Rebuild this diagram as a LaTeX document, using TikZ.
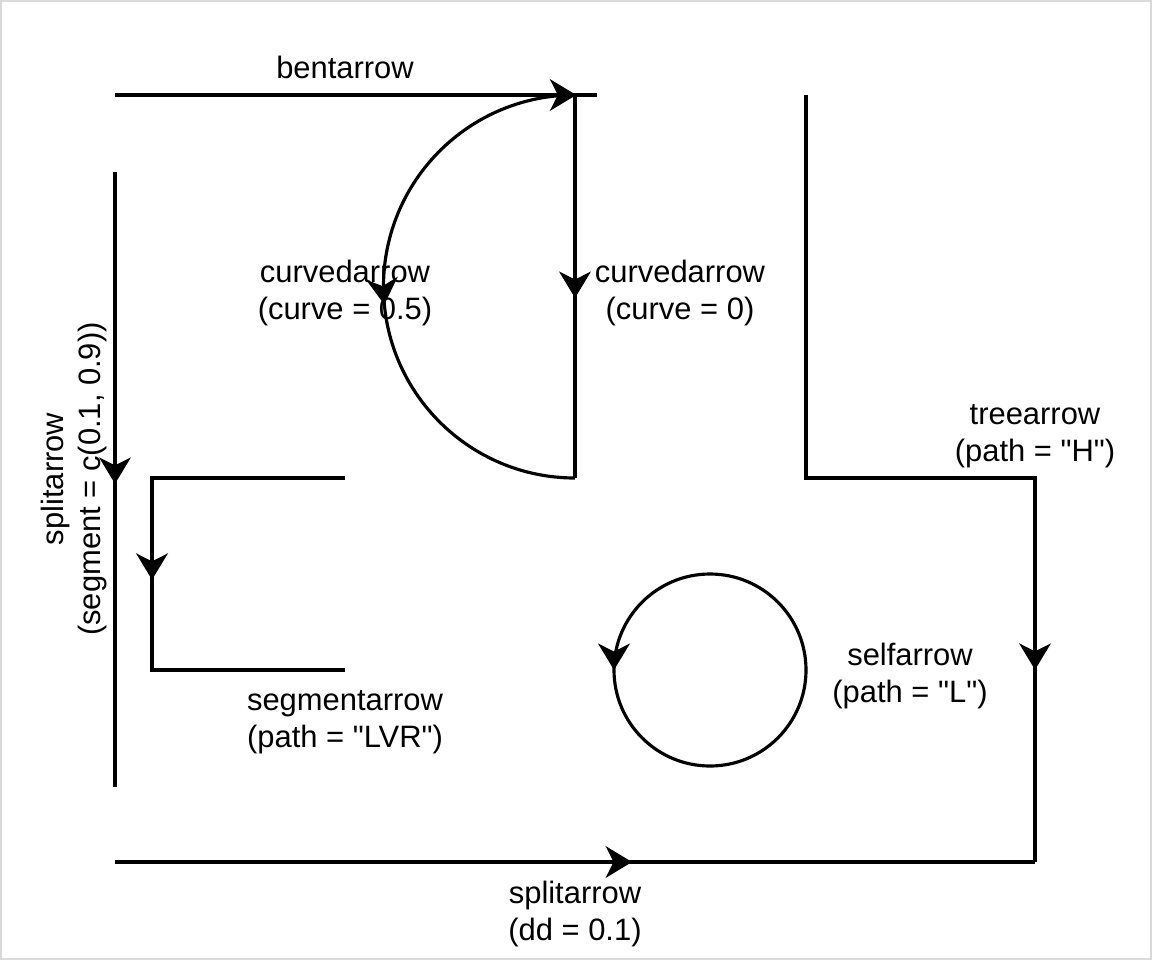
\documentclass[tikz,border=0pt]{standalone}
\usepackage{fontspec}
\setmainfont{Liberation Sans}
\usetikzlibrary{arrows.meta,calc,decorations.markings}
\definecolor{framecol}{RGB}{218,218,218}
\tikzset{
  lbl/.style={align=center,font=\fontsize{17.6}{21}\selectfont},
  ln/.style={line width=1.8pt},
  midarrow/.style={postaction={decorate},decoration={markings,mark=at position #1 with {\arrow{>}}}}
}

\begin{document}
\begin{tikzpicture}[x=0.02cm,y=0.02cm,>={Stealth[length=15pt,width=18pt,inset=4.5pt]}]
\useasboundingbox (0,0) rectangle (1152,-960);
\draw[framecol,line width=1.1pt] (1,-1) rectangle (1151,-959);
% corner points
\coordinate (bentA) at (115,-95); \coordinate (bentB) at (597,-95);
\coordinate (topC) at (575,-95); \coordinate (botC) at (575,-478);
\coordinate (treeA) at (806,-95); \coordinate (treeB) at (806,-478);
\coordinate (treeC) at (1035,-478); \coordinate (treeD) at (1035,-862);
\coordinate (splitA) at (115,-862);
\coordinate (vsplitA) at (115,-172); \coordinate (vsplitB) at (115,-787);
\coordinate (segA) at (345,-478); \coordinate (segB) at (152,-478);
\coordinate (segC) at (152,-670); \coordinate (segD) at (345,-670);
\coordinate (selfc) at (710,-670);
% top: bent and curved arrows
\draw[ln,midarrow=0.957] (bentA) -- (bentB);
\node[lbl,anchor=base] (bentlbl) at (345,-78) {bentarrow};
\draw[ln,midarrow=0.53] (topC) -- (botC);
\draw[ln,midarrow=0.53] (topC) arc[start angle=90,end angle=270,radius=191.5];
\node[lbl] (curvelbl) at (345,-293) {curvedarrow\\(curve = 0.5)};
\node[lbl] (straightlbl) at (680,-293) {curvedarrow\\(curve = 0)};
% tree arrow and bottom split arrow
\draw[ln,midarrow=0.807] (treeA) -- (treeB) -- (treeC) -- (treeD);
\node[lbl] (treelbl) at (1035,-436) {treearrow\\(path = \textquotedbl H\textquotedbl)};
\draw[ln,midarrow=0.562] (splitA) -- (treeD);
\node[lbl] (splitlbl) at (575,-914) {splitarrow\\(dd = 0.1)};
% left: split and segment arrows
\draw[ln,midarrow=0.507] (vsplitA) -- (vsplitB);
\node[lbl,rotate=90] (vsplitlbl) at (74,-479) {splitarrow\\(segment = c(0.1, 0.9))};
\draw[ln,midarrow=0.51] (segA) -- (segB) -- (segC) -- (segD);
\node[lbl] (seglbl) at (345,-722) {segmentarrow\\(path = \textquotedbl LVR\textquotedbl)};
% self arrow
\draw[ln,midarrow=0.25] ($(selfc)+(0,96)$) arc[start angle=90,end angle=450,radius=96];
\node[lbl] (selflbl) at (910,-676) {selfarrow\\(path = \textquotedbl L\textquotedbl)};
\end{tikzpicture}
\end{document}
